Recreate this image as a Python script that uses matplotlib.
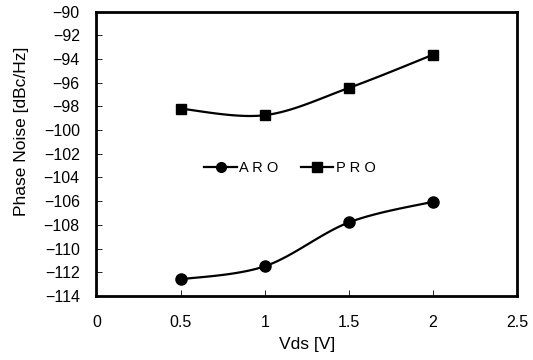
import matplotlib
matplotlib.use("Agg")
import matplotlib.pyplot as plt
import numpy as np

plt.rcParams['font.family'] = ['Liberation Sans', 'DejaVu Sans']

vds = [0.5, 1.0, 1.5, 2.0]
aro = [-112.6, -111.5, -107.8, -106.05]
pro = [-98.2, -98.75, -96.45, -93.65]
xticks = [0, 0.5, 1, 1.5, 2, 2.5]
xticklabels = ['0', '0.5', '1', '1.5', '2', '2.5']
yticks = list(range(-114, -89, 2))


def smooth(x, y, n=30):
    # Excel-like smoothed line: Catmull-Rom bezier between points
    x = np.asarray(x, float)
    y = np.asarray(y, float)
    px = np.concatenate([[x[0]], x, [x[-1]]])
    py = np.concatenate([[y[0]], y, [y[-1]]])
    xs, ys = [], []
    t = np.linspace(0, 1, n)
    for i in range(1, len(px) - 2):
        p0 = np.array([px[i], py[i]])
        p3 = np.array([px[i + 1], py[i + 1]])
        c1 = p0 + (np.array([px[i + 1], py[i + 1]]) - np.array([px[i - 1], py[i - 1]])) / 6
        c2 = p3 - (np.array([px[i + 2], py[i + 2]]) - np.array([px[i], py[i]])) / 6
        b = ((1 - t) ** 3)[:, None] * p0 + (3 * (1 - t) ** 2 * t)[:, None] * c1 \
            + (3 * (1 - t) * t ** 2)[:, None] * c2 + (t ** 3)[:, None] * p3
        xs.extend(b[:, 0])
        ys.extend(b[:, 1])
    return xs, ys


fig = plt.figure(figsize=(5.33, 3.6), dpi=100)
ax = fig.add_axes([0.181, 0.178, 0.789, 0.790])

for vals, mk, ms, lab in [(aro, 'o', 8, 'A R O'), (pro, 's', 7.5, 'P R O')]:
    sx, sy = smooth(vds, vals)
    ax.plot(sx, sy, '-', color='black', lw=1.6)
    ax.plot(vds, vals, mk, color='black', markersize=ms)
    ax.plot([], [], '-', marker=mk, color='black', lw=1.6, markersize=ms - 1, label=lab)

ax.set_xlim(0, 2.5)
ax.set_ylim(-114, -90)
ax.set_xticks(xticks)
ax.set_xticklabels(xticklabels)
ax.set_yticks(yticks)
ax.tick_params(direction='in', length=4, width=0.6, labelsize=11.5)
ax.tick_params(axis='x', pad=14)
ax.tick_params(axis='y', pad=12)
for s in ax.spines.values():
    s.set_linewidth(2)

ax.set_xlabel('Vds [V]', fontsize=12.5, labelpad=5)
ax.set_ylabel('Phase Noise [dBc/Hz]', fontsize=12.5)
ax.yaxis.set_label_coords(-0.16, 0.58)

ax.legend(loc='center', bbox_to_anchor=(0.46, 0.45), ncol=2, frameon=False,
          fontsize=10.5, handlelength=2.2, handletextpad=0.2, columnspacing=1.5)

fig.savefig('out.png', dpi=100)
